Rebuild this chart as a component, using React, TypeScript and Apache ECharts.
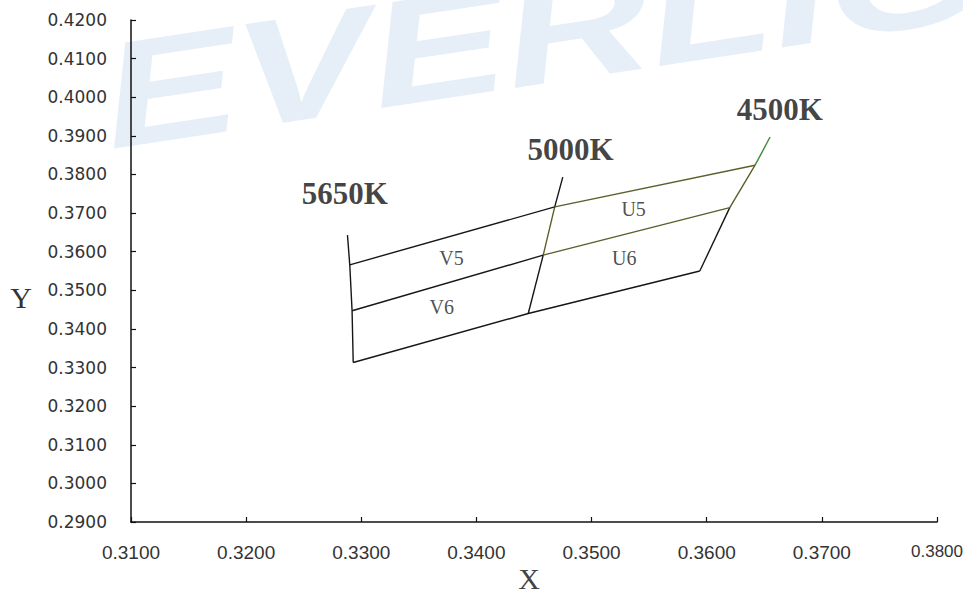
import React, { useEffect, useRef } from "react";
import * as echarts from "echarts";

// Constant-CCT lines: [x, y] from top extension down to bottom corner
const cctNames = ["5650K", "5000K", "4500K"];
const cct5650: [number, number][] = [
  [0.3288, 0.3643],
  [0.329, 0.3566],
  [0.3292, 0.3447],
  [0.3293, 0.3313],
];
const cct5000: [number, number][] = [
  [0.3475, 0.3793],
  [0.3468, 0.3716],
  [0.3458, 0.3591],
  [0.3445, 0.344],
];
const cct4500: [number, number][] = [
  [0.3655, 0.3897],
  [0.3642, 0.3824],
  [0.362, 0.3714],
  [0.3594, 0.355],
];
// CCT label anchors
const cctLabelPoints: [number, number][] = [
  [0.32858, 0.37507],
  [0.34818, 0.38636],
  [0.36635, 0.3969],
];
// Bin names and their label anchors
const binNames = ["V5", "V6", "U5", "U6"];
const binPoints: [number, number][] = [
  [0.33783, 0.35848],
  [0.33699, 0.34556],
  [0.35365, 0.37095],
  [0.35284, 0.3584],
];
// Axis ranges
const xRange = [0.31, 0.38];
const yRange = [0.29, 0.42];
const tickStep = 0.01;

const BLACK = "#161616";
const OLIVE = "#5e5e2c";
const GREEN = "#3f8a3a";

function seg(data: [number, number][], color: string) {
  return {
    type: "line",
    data,
    symbol: "none",
    showSymbol: false,
    silent: true,
    z: 3,
    lineStyle: { color, width: 1.4 },
  };
}

export default function App() {
  const ref = useRef<HTMLDivElement>(null);
  useEffect(() => {
    if (!ref.current) return;
    const chart = echarts.init(ref.current, null, { renderer: "svg" });
    const series: any[] = [
      seg(cct5650, BLACK),
      seg([cct5000[0], cct5000[1]], BLACK),
      seg([cct5000[1], cct5000[2]], OLIVE),
      seg([cct5000[2], cct5000[3]], BLACK),
      seg([cct4500[0], cct4500[1]], GREEN),
      seg([cct4500[1], cct4500[2]], OLIVE),
      seg([cct4500[2], cct4500[3]], BLACK),
      seg([cct5650[1], cct5000[1]], BLACK),
      seg([cct5000[1], cct4500[1]], OLIVE),
      seg([cct5650[2], cct5000[2]], BLACK),
      seg([cct5000[2], cct4500[2]], OLIVE),
      seg([cct5650[3], cct5000[3], cct4500[3]], BLACK),
      {
        type: "scatter",
        silent: true,
        symbolSize: 1,
        itemStyle: { color: "rgba(0,0,0,0)" },
        z: 4,
        data: cctLabelPoints.map((p, i) => ({ name: cctNames[i], value: p })),
        label: {
          show: true,
          position: "inside",
          formatter: "{b}",
          fontFamily: "Liberation Serif",
          fontSize: 31,
          fontWeight: "bold",
          color: "#111",
        },
      },
      {
        type: "scatter",
        silent: true,
        symbolSize: 1,
        itemStyle: { color: "rgba(0,0,0,0)" },
        z: 4,
        data: binPoints.map((p, i) => ({ name: binNames[i], value: p })),
        label: {
          show: true,
          position: "inside",
          formatter: "{b}",
          fontFamily: "Liberation Serif",
          fontSize: 20,
          color: "#222",
        },
      },
    ];
    chart.setOption({
      animation: false,
      backgroundColor: "#ffffff",
      grid: {
        left: 131,
        top: 20,
        right: 26,
        bottom: 74,
        containLabel: false,
        outerBoundsMode: "none",
      },
      xAxis: {
        type: "value",
        min: xRange[0],
        max: xRange[1],
        interval: tickStep,
        axisLine: { show: true, lineStyle: { color: "#111", width: 1.5 } },
        axisTick: { show: true, inside: true, length: 5, lineStyle: { color: "#111", width: 1.2 } },
        splitLine: { show: false },
        axisLabel: {
          margin: 21,
          fontFamily: "Liberation Sans",
          fontSize: 19,
          color: "#333",
          formatter: (v: number) =>
            Math.abs(v - xRange[1]) < 1e-9 ? "{last|" + v.toFixed(4) + "}" : v.toFixed(4),
          rich: {
            last: { fontFamily: "Liberation Sans", fontSize: 17, color: "#333" },
          },
        },
      },
      yAxis: {
        type: "value",
        min: yRange[0],
        max: yRange[1],
        interval: tickStep,
        axisLine: { show: true, lineStyle: { color: "#111", width: 1.5 } },
        axisTick: { show: true, inside: true, length: 5, lineStyle: { color: "#111", width: 1.2 } },
        splitLine: { show: false },
        axisLabel: {
          margin: 24,
          fontFamily: "DejaVu Sans",
          fontSize: 17,
          color: "#333",
          formatter: (v: number) => v.toFixed(4),
        },
      },
      graphic: [
        {
          type: "text",
          z: -10,
          silent: true,
          x: 114,
          y: 172,
          rotation: 0.15,
          scaleX: 1.35,
          style: {
            text: "EVERLIGHT",
            font: "italic bold 150px 'Liberation Sans'",
            fill: "#e6eff8",
            textAlign: "left",
            textVerticalAlign: "bottom",
          },
        },
        {
          type: "text",
          silent: true,
          x: 21,
          y: 297,
          style: {
            text: "Y",
            font: "30px 'Liberation Serif'",
            fill: "#333",
            textAlign: "center",
            textVerticalAlign: "middle",
          },
        },
        {
          type: "text",
          silent: true,
          x: 529,
          y: 578,
          style: {
            text: "X",
            font: "30px 'Liberation Serif'",
            fill: "#444",
            textAlign: "center",
            textVerticalAlign: "middle",
          },
        },
      ],
      series,
    });
    return () => chart.dispose();
  }, []);
  return (
    <div
      ref={ref}
      style={{ position: "absolute", left: 0, top: 0, width: 963, height: 596 }}
    />
  );
}
